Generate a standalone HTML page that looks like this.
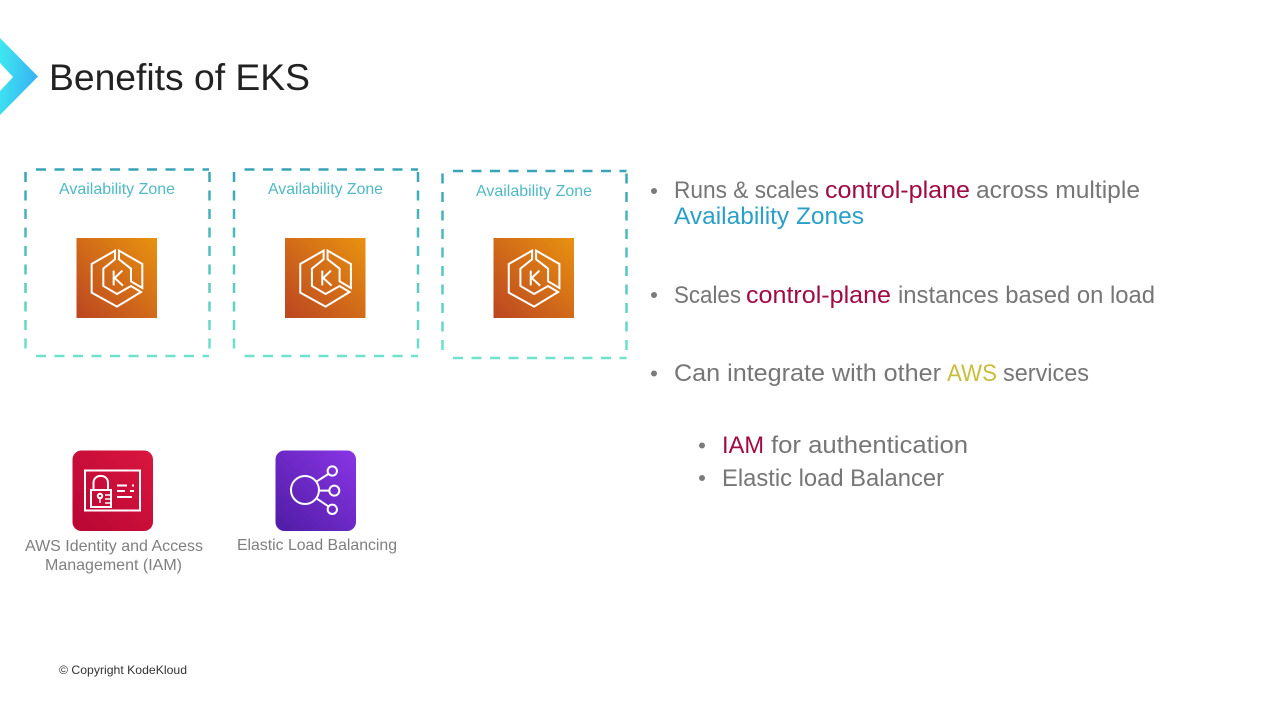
<!DOCTYPE html>
<html lang="en">
<head>
<meta charset="utf-8">
<title>Benefits of EKS</title>
<style>
html,body{margin:0;padding:0;background:#fff;width:1280px;height:720px;overflow:hidden}
svg{display:block}
text{font-family:"Liberation Sans",sans-serif}
.g{fill:#767676}.r{fill:#a10a42}
.b text,.b{font-size:24px}
.az{font-size:16px;fill:#4fb9c6}
.lb{font-size:16px;fill:#7f7f7f}
.hex{fill:none;stroke:#fff;stroke-width:6;stroke-linejoin:miter}
</style>
</head>
<body>
<svg width="1280" height="720" viewBox="0 0 1280 720" xmlns="http://www.w3.org/2000/svg">
<defs>
<linearGradient id="chev" x1="0" y1="0" x2="1" y2="0.25"><stop offset="0" stop-color="#3feaf0"/><stop offset="1" stop-color="#38b4f2"/></linearGradient>
<linearGradient id="dash" gradientUnits="userSpaceOnUse" x1="0" y1="169" x2="0" y2="358"><stop offset="0" stop-color="#38a3b6"/><stop offset="1" stop-color="#6fe3c9"/></linearGradient>
<linearGradient id="eks" x1="0" y1="1" x2="1" y2="0"><stop offset="0" stop-color="#bb4522"/><stop offset="1" stop-color="#e8920f"/></linearGradient>
<linearGradient id="red" x1="0" y1="1" x2="1" y2="0"><stop offset="0" stop-color="#b80633"/><stop offset="1" stop-color="#d9163f"/></linearGradient>
<linearGradient id="pur" x1="0" y1="1" x2="1" y2="0"><stop offset="0" stop-color="#4f1ca4"/><stop offset="1" stop-color="#8a35e6"/></linearGradient>
</defs>

<!-- header -->
<polygon points="0,38 38,76.5 0,115 0,91 13,77 0,63" fill="url(#chev)"/>
<text x="49" y="90" font-size="37" fill="#222" textLength="261" lengthAdjust="spacingAndGlyphs">Benefits of EKS</text>

<!-- availability zones -->
<g fill="none" stroke="url(#dash)" stroke-width="2.5" stroke-dasharray="10 8.5">
<path d="M36 169.5H209M209.5 172V356M36 356H209M25.5 172V356"/>
<path d="M244.5 169.5H418M418 172V356M244.5 356H418M234 172V356"/>
<path d="M453 171H626.5M626.5 173.5V358M453 358H626.5M442.5 173.5V358"/>
</g>
<text class="az" x="59" y="194" textLength="116" lengthAdjust="spacingAndGlyphs">Availability Zone</text>
<text class="az" x="268" y="194" textLength="115" lengthAdjust="spacingAndGlyphs">Availability Zone</text>
<text class="az" x="476" y="196" textLength="116" lengthAdjust="spacingAndGlyphs">Availability Zone</text>

<!-- EKS icons -->
<g>
<rect x="76.5" y="238" width="80.5" height="80" fill="url(#eks)"/>
<g transform="translate(15 160) scale(.3333)">
<path class="hex" d="M300 272L230 312V398L306 440L378 396L348 378L306 402L265 378V326L300 298Z"/>
<path class="hex" d="M312 272L382 312V384L348 364V326L312 298Z"/>
<path d="M296 332V376M322 332L299 354L324 377" fill="none" stroke="#fff" stroke-width="6"/>
</g>
</g>
<g>
<rect x="285" y="238" width="80.5" height="80" fill="url(#eks)"/>
<g transform="translate(223.6 160) scale(.3333)">
<path class="hex" d="M300 272L230 312V398L306 440L378 396L348 378L306 402L265 378V326L300 298Z"/>
<path class="hex" d="M312 272L382 312V384L348 364V326L312 298Z"/>
<path d="M296 332V376M322 332L299 354L324 377" fill="none" stroke="#fff" stroke-width="6"/>
</g>
</g>
<g>
<rect x="493.5" y="238" width="80.5" height="80" fill="url(#eks)"/>
<g transform="translate(432.1 160) scale(.3333)">
<path class="hex" d="M300 272L230 312V398L306 440L378 396L348 378L306 402L265 378V326L300 298Z"/>
<path class="hex" d="M312 272L382 312V384L348 364V326L312 298Z"/>
<path d="M296 332V376M322 332L299 354L324 377" fill="none" stroke="#fff" stroke-width="6"/>
</g>
</g>

<!-- IAM icon -->
<rect x="72.5" y="450.5" width="80.5" height="80.5" rx="9" fill="url(#red)"/>
<g fill="none" stroke="#fff" stroke-width="2">
<rect x="85" y="470.5" width="55" height="40"/>
<path d="M93.5 490V483C93.5 473.5 108 473.5 108 483V490"/>
<rect x="91" y="490" width="20" height="17"/>
<circle cx="100" cy="496" r="2.2"/>
<path d="M100 498V503M105 495H111M105 499H111M105 503H111" stroke-width="1.4"/>
<path d="M117 485.5H127M132 485.5H134M117 491H125M130 491H134M117 497H132"/>
</g>

<!-- ELB icon -->
<rect x="275.5" y="450.5" width="80.5" height="80.5" rx="9" fill="url(#pur)"/>
<g transform="translate(60 440) scale(.3333)" fill="none" stroke="#fff" stroke-width="6">
<circle cx="735" cy="150" r="42"/>
<circle cx="817" cy="93" r="14"/>
<circle cx="823" cy="152" r="15"/>
<circle cx="817" cy="208" r="14"/>
<path d="M769 125L805 102M777 152H808M769 175L805 199"/>
</g>

<text class="lb" x="25" y="551" textLength="178" lengthAdjust="spacingAndGlyphs">AWS Identity and Access</text>
<text class="lb" x="45" y="570" textLength="137" lengthAdjust="spacingAndGlyphs">Management (IAM)</text>
<text class="lb" x="237" y="550" textLength="160" lengthAdjust="spacingAndGlyphs">Elastic Load Balancing</text>

<!-- bullets -->
<g fill="#7b7b7b">
<circle cx="654" cy="191" r="3"/>
<circle cx="654" cy="295" r="3"/>
<circle cx="654" cy="373.5" r="3"/>
<circle cx="702" cy="445.5" r="3"/>
<circle cx="702" cy="478" r="3"/>
</g>
<g class="b">
<text class="g" x="674" y="198" textLength="145" lengthAdjust="spacingAndGlyphs">Runs &amp; scales</text>
<text class="r" x="825" y="198" textLength="145" lengthAdjust="spacingAndGlyphs">control-plane</text>
<text class="g" x="976" y="198" textLength="164" lengthAdjust="spacingAndGlyphs">across multiple</text>
<text x="674" y="224" fill="#2ba0c6" textLength="190" lengthAdjust="spacingAndGlyphs">Availability Zones</text>

<text class="g" x="674" y="303" textLength="67" lengthAdjust="spacingAndGlyphs">Scales</text>
<text class="r" x="746" y="303" textLength="145" lengthAdjust="spacingAndGlyphs">control-plane</text>
<text class="g" x="898" y="303" textLength="257" lengthAdjust="spacingAndGlyphs">instances based on load</text>

<text class="g" x="674" y="381" textLength="267" lengthAdjust="spacingAndGlyphs">Can integrate with other</text>
<text x="947" y="381" fill="#c9bd3c" textLength="50" lengthAdjust="spacingAndGlyphs">AWS</text>
<text class="g" x="1003" y="381" textLength="86" lengthAdjust="spacingAndGlyphs">services</text>

<text class="r" x="722" y="453" textLength="42" lengthAdjust="spacingAndGlyphs">IAM</text>
<text class="g" x="771" y="453" textLength="197" lengthAdjust="spacingAndGlyphs">for authentication</text>
<text class="g" x="722" y="486" textLength="222" lengthAdjust="spacingAndGlyphs">Elastic load Balancer</text>
</g>

<text x="59" y="674" font-size="12" fill="#333" textLength="128" lengthAdjust="spacingAndGlyphs">© Copyright KodeKloud</text>
</svg>
</body>
</html>
